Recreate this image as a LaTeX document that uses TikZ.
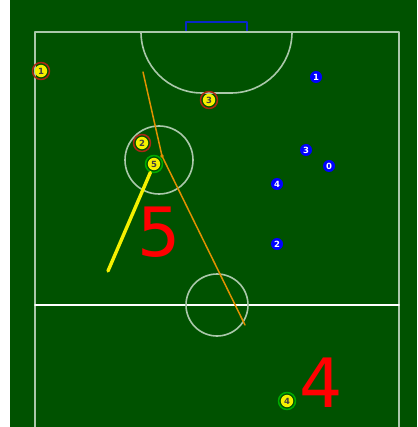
\documentclass[tikz,border=0pt]{standalone}
\usepackage{fontspec}
\setmainfont{DejaVu Sans}
\usetikzlibrary{positioning}

\definecolor{pitch}{RGB}{0,82,0}
\definecolor{chalk}{RGB}{170,200,170}
\definecolor{goalblue}{RGB}{10,40,200}
\definecolor{ringred}{RGB}{170,40,20}
\definecolor{ringgreen}{RGB}{0,170,0}
\definecolor{passorange}{RGB}{225,145,0}
\definecolor{runyellow}{RGB}{245,240,0}

\begin{document}
\begin{tikzpicture}[
    x=1pt,y=-1pt,
    line cap=round,
    line join=round,
    chalkline/.style={line width=1.6pt,draw=chalk},
    halfline/.style={line width=1.6pt,draw=white},
    goal/.style={line width=2pt,draw=goalblue,line cap=butt},
    passline/.style={line width=1.5pt,draw=passorange},
    runline/.style={line width=3.4pt,draw=runyellow},
    ringed/.style={
        circle,
        draw=#1,
        line width=1.5pt,
        minimum size=17pt,
        inner sep=0pt,
        font=\fontsize{8.5}{8.5}\selectfont\bfseries,
        text=black!75,
        path picture={\fill[runyellow] (path picture bounding box.center) circle[radius=6.2pt];}
    },
    home/.style={ringed=ringred},
    mark5/.style={ringed=ringgreen},
    away/.style={
        circle,
        fill=blue,
        minimum size=12pt,
        inner sep=0pt,
        font=\fontsize{8.5}{8.5}\selectfont\bfseries,
        text=white
    },
    bignum/.style={inner sep=0pt,text=red,font=\fontsize{68}{68}\selectfont}
]
\useasboundingbox (0,0) rectangle (417,427);
\fill[pitch] (10,0) rectangle (417,427);

% Pitch markings.
\draw[goal] (186,32) -- (186,22) -- (247,22) -- (247,32);
\draw[chalkline] (35,427) -- (35,32) -- (399,32) -- (399,427);
\draw[chalkline] (141,32) arc[start angle=180,end angle=90,radius=61]
    -- (231,93) arc[start angle=90,end angle=0,radius=61];
\draw[chalkline] (159,160) circle[radius=34];
\draw[halfline] (35,305) -- (399,305);
\draw[chalkline] (217,305) circle[radius=31];

% Home players.
\node[home] (h1) at (41,71) {1};
\node[home] (h3) at (209,100) {3};
\node[home] (h2) at (142,143) {2};
\node[mark5] (h5) at (154,164) {5};
\node[mark5] (h4) at (287,401) {4};

% Away players.
\node[away] (a1) at (316,77) {1};
\node[away] (a3) at (306,150) {3};
\node[away] (a0) at (329,166) {0};
\node[away] (a4) at (277,184) {4};
\node[away] (a2) at (277,244) {2};

% Pass and run.
\coordinate (passstart) at (143,72);
\coordinate (passbend) at (162,156);
\coordinate (passend) at (245,325);
\coordinate (runend) at (108,271);
\draw[passline] (passstart) -- (passbend) -- (passend);
\fill[passorange] (passbend) circle[radius=1.8pt];
\draw[runline] (h5) -- (runend);

% Labels.
\node[bignum] (lab5) at (159,232) {5};
\node[bignum] (lab4) at (321,383) {4};

\end{tikzpicture}
\end{document}
